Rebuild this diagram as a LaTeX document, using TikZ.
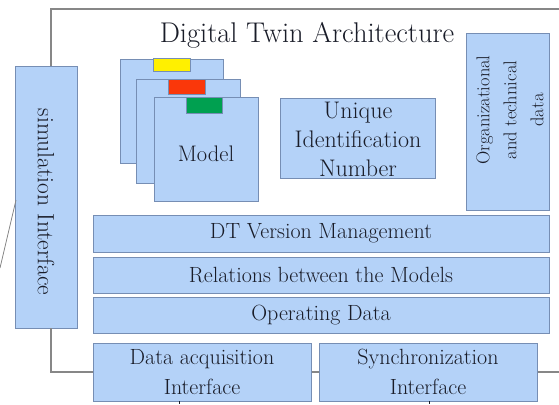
\documentclass[tikz,border=0pt]{standalone}
\usepackage{fontspec}
\definecolor{boxfill}{RGB}{180,210,248}
\definecolor{boxline}{RGB}{118,142,180}
\definecolor{frameline}{RGB}{135,135,135}
\definecolor{txt}{RGB}{25,28,40}
\definecolor{tabyellow}{RGB}{255,240,0}
\definecolor{tabred}{RGB}{250,55,10}
\definecolor{tabgreen}{RGB}{0,160,80}
\tikzset{
  blk/.style={draw=boxline, fill=boxfill, line width=0.9pt, inner sep=0pt, rectangle, text=txt},
  tab/.style={draw=boxline, line width=0.6pt, inner sep=0pt, rectangle},
  lbl/.style={text=txt, inner sep=0pt, align=center, font=\fontsize{22}{30}\selectfont},
  frm/.style={draw=frameline, line width=1.6pt},
}
\begin{document}
\begin{tikzpicture}[x=1pt,y=-1pt]
\useasboundingbox (0,0) rectangle (559,404);
% frame coordinates
\coordinate (ftl) at (51,9);
\coordinate (ftr) at (559,9);
\coordinate (fbl) at (51,372);
\coordinate (fbr) at (559,372);
\coordinate (d1) at (16,200);
\coordinate (d2) at (0,268);
\coordinate (t1) at (179,404);
\coordinate (t2) at (429,404);

% nodes (boxes)
\node[blk, minimum width=62, minimum height=262] (sim) at (46,197) {};
\node[blk, minimum width=103, minimum height=104] (back) at (171.5,111) {};
\node[tab, fill=tabyellow, minimum width=37, minimum height=13] (yel) at (171.5,64.5) {};
\node[blk, minimum width=104, minimum height=104] (mid) at (188,131) {};
\node[tab, fill=tabred, minimum width=37, minimum height=15] (red) at (186.5,86.5) {};
\node[blk, minimum width=104, minimum height=104] (front) at (206,149) {};
\node[tab, fill=tabgreen, minimum width=36, minimum height=16] (grn) at (204,105) {};
\node[blk, minimum width=155, minimum height=80] (uid) at (357.5,138) {};
\node[blk, minimum width=83, minimum height=177] (org) at (507.5,121.5) {};
\node[blk, minimum width=456, minimum height=37] (ver) at (321,233.5) {};
\node[blk, minimum width=456, minimum height=36] (rel) at (321,275) {};
\node[blk, minimum width=456, minimum height=36] (op) at (321,315) {};

% frame lines (behind bottom boxes)
\draw[frm] (ftr) -- (ftl) -- (ftl |- sim.north);
\draw[frm] (fbl |- sim.south) -- (fbl) -- (fbr);
\draw[draw=frameline, line width=0.8pt] (d1) -- (d2);

\node[blk, minimum width=218, minimum height=58] (daq) at (202,372) {};
\node[blk, minimum width=218, minimum height=58] (sync) at (428,372) {};
\draw[draw=txt, line width=0.8pt] (daq.south -| t1) -- (t1);
\draw[draw=txt, line width=0.8pt] (sync.south -| t2) -- (t2);

% texts
\node[lbl, font=\fontsize{28.5}{34}\selectfont, anchor=base] (title) at (307,43) {Digital Twin Architecture};
\node[lbl, rotate=-90, font=\fontsize{23.5}{30}\selectfont] (simlbl) at (sim.center |- 0,202) {simulation Interface};
\node[lbl, font=\fontsize{22.5}{30}\selectfont] (modellbl) at (206,154) {Model};
\node[lbl, font=\fontsize{24}{29}\selectfont] (uidlbl) at (358,139) {Unique\\Identification\\Number};
\node[lbl, rotate=90, font=\fontsize{18.5}{27}\selectfont] (orglbl) at (510,110) {Organizational\\and technical\\data};
\node[lbl] (verlbl) at (ver.center) {DT Version Management};
\node[lbl] (rellbl) at (rel.center) {Relations between the Models};
\node[lbl] (oplbl) at (op.center) {Operating Data};
\node[lbl] (daqlbl) at (daq.center) {Data acquisition\\Interface};
\node[lbl] (synclbl) at (sync.center) {Synchronization\\Interface};
\end{tikzpicture}
\end{document}
